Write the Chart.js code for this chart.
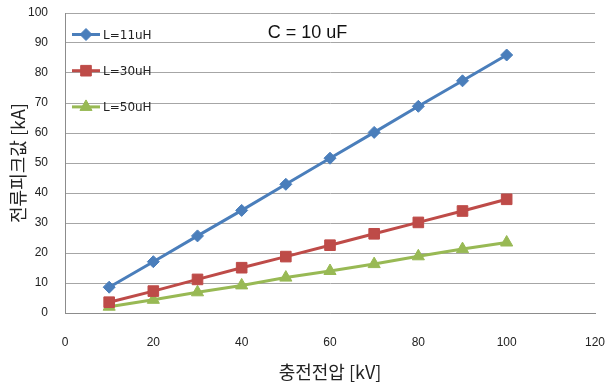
<!DOCTYPE html>
<html>
<head>
<meta charset="utf-8">
<script src="https://cdn.jsdelivr.net/npm/chart.js@4/dist/chart.umd.min.js"></script>
<style>
  html, body { margin: 0; padding: 0; background: #fff; }
  #wrap { width: 606px; height: 385px; }
</style>
</head>
<body>
<div id="wrap"><canvas id="chart" width="606" height="385"></canvas></div>
<script>
// charging voltage [kV]
const voltage = [10, 20, 30, 40, 50, 60, 70, 80, 90, 100]
// peak current [kA] per inductance
const l11 = [8.6, 17.1, 25.7, 34.2, 42.9, 51.6, 60.2, 68.9, 77.4, 86.0]
const l30 = [3.6, 7.3, 11.2, 15.1, 18.8, 22.6, 26.4, 30.2, 34.0, 37.9]
const l50 = [2.1, 4.4, 6.9, 9.2, 11.8, 14.0, 16.3, 18.9, 21.3, 23.5]
const seriesNames = ['L=11uH', 'L=30uH', 'L=50uH']
const noteText = 'C = 10 uF'

const toPts = ys => voltage.map((v, i) => ({ x: v, y: ys[i] }))

const mk = (label, ys, color, style, r) => ({
  label: label,
  data: toPts(ys),
  borderColor: color,
  backgroundColor: color,
  borderWidth: 3,
  pointStyle: style,
  pointRadius: r,
  pointHoverRadius: r,
  pointBorderWidth: 1,
  tension: 0,
  showLine: true
})

// legend inside plot + "C = 10 uF" note
const insideLegend = {
  id: 'insideLegend',
  afterDraw(chart) {
    const ctx = chart.ctx
    const area = chart.chartArea
    ctx.save()
    chart.data.datasets.forEach((ds, i) => {
      const y = area.top + 21.5 + i * 36.2
      const x0 = area.left + 7
      ctx.strokeStyle = ds.borderColor
      ctx.fillStyle = ds.borderColor
      ctx.lineWidth = 3
      ctx.beginPath()
      ctx.moveTo(x0, y)
      ctx.lineTo(x0 + 28, y)
      ctx.stroke()
      ctx.lineWidth = 1
      Chart.helpers.drawPoint(ctx, { pointStyle: ds.pointStyle, radius: ds.pointRadius, borderWidth: 1, rotation: 0 }, x0 + 14, y)
      ctx.fillStyle = '#222'
      ctx.font = '12px "DejaVu Sans", sans-serif'
      ctx.textBaseline = 'middle'
      ctx.textAlign = 'left'
      ctx.fillText(ds.label, x0 + 31, y + 1)
    })
    const xs = chart.scales.x, ys = chart.scales.y
    ctx.fillStyle = '#111'
    ctx.font = '18px "Liberation Sans", Arial, sans-serif'
    ctx.textBaseline = 'middle'
    ctx.fillText(noteText, xs.getPixelForValue(45.9), ys.getPixelForValue(93.3))
    ctx.restore()
  }
}

const noTick = 'rgba(0,0,0,0)'

const cfg = {
  type: 'line',
  data: {
    datasets: [
      mk(seriesNames[0], l11, '#4a7ebb', 'rectRot', 6),
      mk(seriesNames[1], l30, '#be4b48', 'rect', 7.5),
      mk(seriesNames[2], l50, '#98b954', 'triangle', 7)
    ]
  },
  options: {
    responsive: false,
    animation: false,
    layout: { padding: { top: 13, right: 11, left: 0, bottom: 0 } },
    plugins: {
      legend: { display: false },
      tooltip: { enabled: false }
    },
    scales: {
      x: {
        type: 'linear',
        min: 0,
        max: 120,
        afterFit: s => { s.height = 72 },
        ticks: { stepSize: 20, padding: 0, color: '#222', font: { family: '"Liberation Sans", Arial, sans-serif', size: 12 } },
        // invisible tick marks just to push the labels down
        grid: { color: noTick, tickColor: noTick, drawTicks: true, tickLength: 22 },
        border: { display: true, color: '#8c8c8c', width: 1 },
        title: { display: true, text: '충전전압 [kV]', color: '#222', padding: { top: 0, bottom: 2 }, font: { family: '"Noto Sans CJK KR", sans-serif', size: 18 } }
      },
      y: {
        min: 0,
        max: 100,
        afterFit: s => { s.width = 65 },
        ticks: { stepSize: 10, padding: 0, color: '#222', font: { family: '"Liberation Sans", Arial, sans-serif', size: 12 } },
        grid: { color: '#a6a6a6', lineWidth: 1, tickColor: noTick, drawTicks: true, tickLength: 17 },
        border: { display: true, color: '#8c8c8c', width: 1 },
        title: { display: true, text: '전류피크값 [kA]', color: '#222', padding: { top: 7, bottom: 0 }, font: { family: '"Noto Sans CJK KR", sans-serif', size: 18 } }
      }
    }
  },
  plugins: [insideLegend]
}

new Chart(document.getElementById('chart'), cfg)
</script>
</body>
</html>
